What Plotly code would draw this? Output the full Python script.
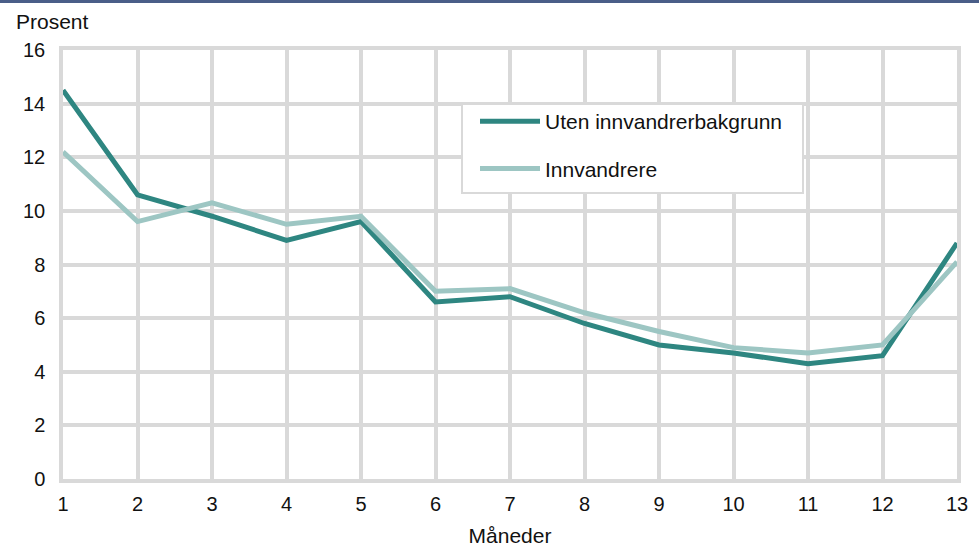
import plotly.graph_objects as go

months = list(range(1, 14))
tick_labels = [str(m) for m in months]
uten = [14.5, 10.6, 9.8, 8.9, 9.6, 6.6, 6.8, 5.8, 5.0, 4.7, 4.3, 4.6, 8.8]
innv = [12.2, 9.6, 10.3, 9.5, 9.8, 7.0, 7.1, 6.2, 5.5, 4.9, 4.7, 5.0, 8.1]
y_ticks = [0, 2, 4, 6, 8, 10, 12, 14, 16]

FONT = "Liberation Sans, Arial, sans-serif"
GRID = "#d9d9d9"
FS = 21

fig = go.Figure()
fig.add_trace(go.Scatter(x=months, y=uten, mode="lines", name="Uten innvandrerbakgrunn",
                         line=dict(color="#2e8681", width=5), legendgroup="a"))
fig.add_trace(go.Scatter(x=months, y=innv, mode="lines", name="Innvandrere",
                         line=dict(color="#9dc6c3", width=5), legendgroup="b"))

pw = 979 - 63 - 22
ph = 549 - 50 - 70


def px(x):
    return (x - 63) / pw


def py(y):
    return (479 - y) / ph


fig.update_layout(
    width=979, height=549,
    margin=dict(l=63, r=22, t=50, b=70, autoexpand=False),
    paper_bgcolor="white", plot_bgcolor="white",
    font=dict(family=FONT, size=FS, color="#111111"),
    showlegend=True,
    legend=dict(x=px(475), y=py(101), xanchor="left", yanchor="top",
                bgcolor="rgba(0,0,0,0)", borderwidth=0,
                font=dict(family=FONT, size=FS, color="#111111"),
                traceorder="grouped", tracegroupgap=17, itemwidth=60),
    xaxis=dict(range=[1, 13], tickmode="array", tickvals=months, ticktext=tick_labels,
               showgrid=True, gridcolor=GRID, gridwidth=3.5,
               showline=True, linecolor=GRID, linewidth=3.5, mirror=True,
               zeroline=False, ticks="", ticklabelstandoff=4,
               tickfont=dict(family=FONT, size=20),
               title=dict(text="Måneder", font=dict(family=FONT, size=FS), standoff=16)),
    yaxis=dict(range=[0, 16], tickmode="array", tickvals=y_ticks,
               showgrid=True, gridcolor=GRID, gridwidth=3.5,
               showline=True, linecolor=GRID, linewidth=3.5, mirror=True,
               zeroline=False, ticks="", ticklabelstandoff=10,
               tickfont=dict(family=FONT, size=20)),
    annotations=[dict(text="Prosent", x=px(14), y=py(22),
                      xref="paper", yref="paper", xanchor="left", yanchor="middle",
                      showarrow=False, font=dict(family=FONT, size=FS))],
)
# legend frame
fig.add_shape(type="rect", xref="paper", yref="paper",
              x0=px(462), x1=px(803), y0=py(193), y1=py(104),
              line=dict(width=2, color=GRID), fillcolor="white", layer="above")
# top rule
fig.add_shape(type="rect", xref="paper", yref="paper",
              x0=px(0), x1=px(979), y0=py(3), y1=py(-1),
              line=dict(width=0), fillcolor="#4a5e88", layer="above")

fig.write_html("out.html", config={"displayModeBar": False},
               post_script="document.body.style.margin='0';document.body.style.overflow='hidden';")
